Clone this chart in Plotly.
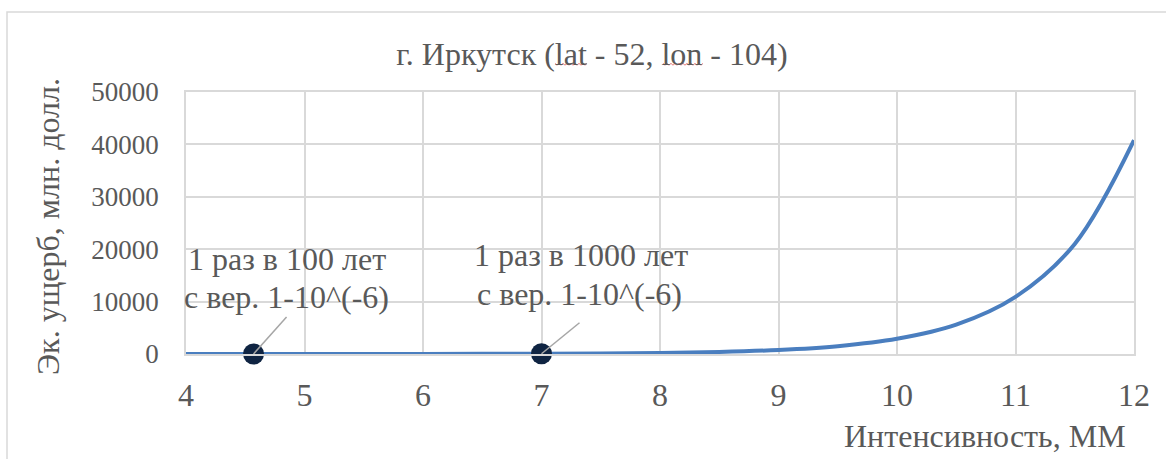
import plotly.graph_objects as go

# Intensity (MM) and economic damage (mln USD)
intensity = [4.0, 4.5, 5.0, 5.5, 6.0, 6.5, 7.0, 7.5, 8.0, 8.5, 9.0, 9.5,
             10.0, 10.5, 11.0, 11.5, 12.0]
damage = [1, 2, 4, 8, 15, 29, 55, 107, 207, 400, 775, 1500,
          2900, 5600, 10900, 21000, 40800]

# Marked return-period events
event_x = [4.57, 7.0]
event_y = [2, 55]
event_lines = [["1 раз в 100 лет", "с вер. 1-10^(-6)"],
               ["1 раз в 1000 лет", "с вер. 1-10^(-6)"]]

x_ticks = [4, 5, 6, 7, 8, 9, 10, 11, 12]
y_ticks = [0, 10000, 20000, 30000, 40000, 50000]

title_text = "г. Иркутск (lat - 52, lon - 104)"
x_title = "Интенсивность, ММ"
y_title = "Эк. ущерб, млн. долл."

FONT = "Liberation Serif"
TXT = "#595959"
GRID = "#d9d9d9"
W, H = 1166, 459
ML, MR, MT, MB = 186, 32, 92, 105
PW, PH = W - ML - MR, H - MT - MB


def px_to_paper(px, py):
    return (px - ML) / PW, (H - MB - py) / PH


fig = go.Figure()
fig.add_trace(go.Scatter(
    x=intensity, y=damage, mode="lines",
    line=dict(color="#4a7ebf", width=4, shape="spline", smoothing=1.0),
    hoverinfo="skip", showlegend=False, cliponaxis=False,
))
fig.add_trace(go.Scatter(
    x=event_x, y=event_y, mode="markers",
    marker=dict(color="#0f2442", size=21),
    showlegend=False, cliponaxis=False,
))

# Leader lines from each marker toward its label (pixel offsets)
leader = [(33, 37), (38, 31)]
for (ex, ey), (dx, dy) in zip(zip(event_x, event_y), leader):
    fig.add_shape(type="line", xref="x", yref="y",
                  xsizemode="pixel", ysizemode="pixel",
                  xanchor=ex, yanchor=ey, x0=0, y0=0, x1=dx, y1=dy,
                  line=dict(color="#a6a6a6", width=1.5), layer="above")

# Label lines, offset in pixels from the marker
line_shift = [[(33, 95), (33, 57)], [(39, 99), (38, 60)]]
for ex, ey, lines, shifts in zip(event_x, event_y, event_lines, line_shift):
    for txt, (sx, sy) in zip(lines, shifts):
        fig.add_annotation(x=ex, y=ey, xref="x", yref="y", text=txt,
                           showarrow=False, xshift=sx, yshift=sy,
                           xanchor="center", yanchor="middle",
                           font=dict(family=FONT, size=32, color=TXT))

# Axis titles
fig.add_annotation(xref="paper", yref="paper", x=1, y=0, text=x_title,
                   showarrow=False, xanchor="right", yanchor="middle",
                   xshift=-6, yshift=-82,
                   font=dict(family=FONT, size=32, color=TXT))
fig.add_annotation(xref="paper", yref="paper", x=0, y=0.5, text=y_title,
                   showarrow=False, textangle=-90, xanchor="center",
                   yanchor="middle", xshift=-138, yshift=-4,
                   font=dict(family=FONT, size=32, color=TXT))

# Chart frame
fx0, fy1 = px_to_paper(7, 12)
fx1, fy0 = px_to_paper(W + 20, H + 20)
fig.add_shape(type="rect", xref="paper", yref="paper",
              x0=fx0, x1=fx1, y0=fy0, y1=fy1,
              line=dict(color=GRID, width=1.5), layer="below")

# Spell-check squiggles under "lat" and "lon" in the title
for sx0, sx1, sy in [(555, 588, 64), (663, 703, 64)]:
    pts = []
    x = sx0
    k = 0
    while x <= sx1:
        px, py = px_to_paper(x, sy + (1.2 if k % 2 else -0.6))
        pts.append(f"{px:.5f},{py:.5f}")
        x += 2
        k += 1
    fig.add_shape(type="path", xref="paper", yref="paper",
                  path="M " + " L ".join(pts),
                  line=dict(color="#e8787a", width=1), layer="above")

fig.update_layout(
    width=W, height=H,
    margin=dict(l=ML, r=MR, t=MT, b=MB),
    paper_bgcolor="white", plot_bgcolor="white",
    font=dict(family=FONT, color=TXT),
    title=dict(text=title_text, x=592 / W, xref="container", xanchor="center",
               y=1 - 54 / H, yref="container", yanchor="middle",
               font=dict(family=FONT, size=32, color=TXT)),
    xaxis=dict(range=[4, 12], tickvals=x_ticks, showgrid=True, gridcolor=GRID,
               gridwidth=1.5, zeroline=False, showline=True, linecolor=GRID,
               linewidth=1.5, mirror=True,
               ticks="outside", ticklen=12, tickcolor="rgba(0,0,0,0)",
               tickfont=dict(family=FONT, size=32, color=TXT)),
    yaxis=dict(range=[0, 50000], tickvals=y_ticks, showgrid=True,
               gridcolor=GRID, gridwidth=1.5, zeroline=False, showline=True,
               linecolor=GRID, linewidth=1.5, mirror=True,
               ticks="outside", ticklen=20, tickcolor="rgba(0,0,0,0)",
               tickformat="d",
               tickfont=dict(family=FONT, size=27, color=TXT)),
)

fig.write_html("out.html")
